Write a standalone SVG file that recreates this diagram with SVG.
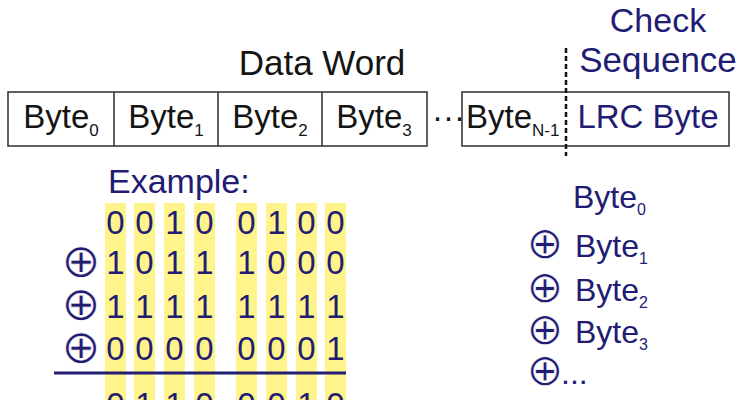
<svg xmlns="http://www.w3.org/2000/svg" width="744" height="400" viewBox="0 0 744 400">
<style>
.bk{font-family:"Liberation Sans",Arial,sans-serif;fill:#141414}
.nv{font-family:"Liberation Sans",Arial,sans-serif;fill:#221c72}
.op{font-family:"DejaVu Sans",sans-serif;fill:#221c72;stroke:#ffffff;stroke-width:0.7px;text-anchor:middle}
.cell{fill:#ffffff;stroke:#3a3a3a;stroke-width:1.6}
.bar{fill:#fff38c}
.dig{font-size:33px;text-anchor:middle}
</style>
<rect width="744" height="400" fill="#ffffff"/>
<g id="titles">
<text class="bk" x="322" y="75" font-size="35" text-anchor="middle">Data Word</text>
<text class="nv" x="658" y="32" font-size="34" text-anchor="middle">Check</text>
<text class="nv" x="658" y="72" font-size="35" text-anchor="middle">Sequence</text>
</g>
<g id="data-word">
<rect class="cell" x="8" y="92" width="419" height="54"/>
<line x1="114" y1="92" x2="114" y2="146" stroke="#3a3a3a" stroke-width="1.6"/>
<line x1="218" y1="92" x2="218" y2="146" stroke="#3a3a3a" stroke-width="1.6"/>
<line x1="322" y1="92" x2="322" y2="146" stroke="#3a3a3a" stroke-width="1.6"/>
<rect class="cell" x="462" y="92" width="267" height="54"/>
<text class="bk" x="61" y="128" font-size="33" text-anchor="middle">Byte<tspan font-size="17" dy="8">0</tspan></text>
<text class="bk" x="166" y="128" font-size="33" text-anchor="middle">Byte<tspan font-size="17" dy="8">1</tspan></text>
<text class="bk" x="270" y="128" font-size="33" text-anchor="middle">Byte<tspan font-size="17" dy="8">2</tspan></text>
<text class="bk" x="374" y="128" font-size="33" text-anchor="middle">Byte<tspan font-size="17" dy="8">3</tspan></text>
<text class="bk" x="432" y="128" font-size="33">···</text>
<text class="bk" x="466" y="128" font-size="33">Byte<tspan font-size="17" dy="8">N-1</tspan></text>
<text class="nv" x="648" y="128" font-size="33" text-anchor="middle">LRC Byte</text>
<line x1="566" y1="48" x2="566" y2="156" stroke="#141414" stroke-width="2.5" stroke-dasharray="5,3"/>
</g>
<g id="example">
<text class="nv" x="108" y="193" font-size="34">Example:</text>
<rect class="bar" x="105" y="203" width="21" height="197"/>
<rect class="bar" x="134" y="203" width="21" height="197"/>
<rect class="bar" x="164" y="203" width="21" height="197"/>
<rect class="bar" x="194" y="203" width="21" height="197"/>
<rect class="bar" x="236" y="203" width="21" height="197"/>
<rect class="bar" x="266" y="203" width="21" height="197"/>
<rect class="bar" x="296" y="203" width="21" height="197"/>
<rect class="bar" x="325" y="203" width="21" height="197"/>
<g class="nv dig">
<text x="115.5" y="234">0</text><text x="144.5" y="234">0</text><text x="174.5" y="234">1</text><text x="204.5" y="234">0</text>
<text x="246.5" y="234">0</text><text x="276.5" y="234">1</text><text x="306.5" y="234">0</text><text x="335.5" y="234">0</text>
<text x="115.5" y="274">1</text><text x="144.5" y="274">0</text><text x="174.5" y="274">1</text><text x="204.5" y="274">1</text>
<text x="246.5" y="274">1</text><text x="276.5" y="274">0</text><text x="306.5" y="274">0</text><text x="335.5" y="274">0</text>
<text x="115.5" y="318">1</text><text x="144.5" y="318">1</text><text x="174.5" y="318">1</text><text x="204.5" y="318">1</text>
<text x="246.5" y="318">1</text><text x="276.5" y="318">1</text><text x="306.5" y="318">1</text><text x="335.5" y="318">1</text>
<text x="115.5" y="360">0</text><text x="144.5" y="360">0</text><text x="174.5" y="360">0</text><text x="204.5" y="360">0</text>
<text x="246.5" y="360">0</text><text x="276.5" y="360">0</text><text x="306.5" y="360">0</text><text x="335.5" y="360">1</text>
<text x="115.5" y="416">0</text><text x="144.5" y="416">1</text><text x="174.5" y="416">1</text><text x="204.5" y="416">0</text>
<text x="246.5" y="416">0</text><text x="276.5" y="416">0</text><text x="306.5" y="416">1</text><text x="335.5" y="416">0</text>
</g>
<text class="op" x="81" y="277" font-size="47">⊕</text>
<text class="op" x="81" y="320" font-size="47">⊕</text>
<text class="op" x="81" y="363" font-size="47">⊕</text>
<line x1="54" y1="373" x2="346" y2="373" stroke="#221c72" stroke-width="3"/>
</g>
<g id="formula">
<text class="nv" x="573" y="208" font-size="32">Byte<tspan font-size="16" dy="7">0</tspan></text>
<text class="op" x="545" y="258" font-size="44">⊕</text>
<text class="nv" x="575" y="257" font-size="32">Byte<tspan font-size="16" dy="7">1</tspan></text>
<text class="op" x="545" y="302" font-size="44">⊕</text>
<text class="nv" x="575" y="301" font-size="32">Byte<tspan font-size="16" dy="7">2</tspan></text>
<text class="op" x="545" y="344" font-size="44">⊕</text>
<text class="nv" x="575" y="343" font-size="32">Byte<tspan font-size="16" dy="7">3</tspan></text>
<text class="op" x="545" y="385" font-size="44">⊕</text>
<text class="nv" x="561" y="384" font-size="32">...</text>
</g>
</svg>
